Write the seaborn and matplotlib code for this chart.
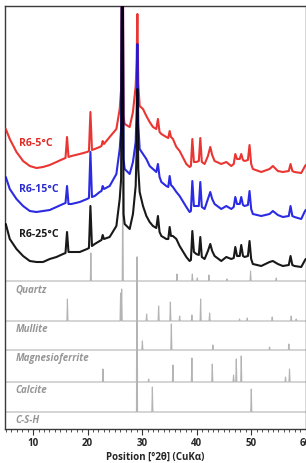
import numpy as np
import pandas as pd
import matplotlib
matplotlib.use("Agg")
import matplotlib.pyplot as plt
from matplotlib.ticker import MultipleLocator
import seaborn as sns

# ---------------- data ----------------
two_theta = [5.0, 5.73, 6.96, 8.17, 9.40, 10.62, 11.83, 13.06, 14.29, 15.50,
             15.95, 16.23, 16.5, 17.04, 18.56, 19.90, 20.25, 20.52, 20.8, 21.31,
             22.22, 22.55, 22.77, 23.0, 24.05, 25.28, 25.89, 26.15, 26.38, 26.6,
             26.80, 27.72, 28.32, 28.82, 29.0, 29.13, 29.3, 29.55, 30.16, 30.78,
             31.38, 31.99, 32.6, 32.90, 33.2, 33.53, 34.44, 34.8, 35.05, 35.3,
             35.65, 36.28, 36.88, 38.11, 38.71, 38.95, 39.21, 39.5, 39.94, 40.4,
             40.67, 40.95, 41.46, 42.07, 42.50, 42.85, 43.29, 44.52, 45.44, 46.35,
             46.8, 47.09, 47.4, 47.9, 48.18, 48.5, 48.79, 49.4, 49.70, 50.0,
             50.31, 51.85, 53.37, 53.98, 54.89, 55.81, 56.9, 57.22, 57.55, 57.95,
             59.18, 59.78, 60.0]

r6_5 = [300, 290, 277, 268, 263, 261, 262, 264, 267, 270,
        271, 292, 272, 273, 275, 277, 278, 317, 279, 280,
        282, 283, 288, 285, 292, 300, 320, 340, 580, 312,
        305, 302, 317, 343, 370, 415, 345, 323, 320, 313,
        307, 302, 300, 310, 297, 295, 292, 291, 298, 292,
        290, 282, 278, 265, 262, 263, 290, 267, 267, 268,
        291, 267, 265, 273, 282, 274, 268, 265, 267, 263,
        265, 275, 270, 270, 275, 269, 268, 269, 284, 265,
        260, 257, 260, 263, 258, 257, 258, 265, 258, 257,
        256, 262, 264]

r6_15 = [252, 240, 230, 223, 218, 217, 218, 219, 222, 225,
         226, 243, 225, 225, 227, 230, 231, 277, 232, 233,
         237, 238, 243, 240, 243, 255, 280, 300, 580, 270,
         260, 255, 267, 287, 320, 385, 305, 280, 275, 270,
         263, 260, 257, 265, 252, 247, 243, 242, 253, 244,
         242, 237, 233, 222, 217, 218, 248, 223, 223, 223,
         247, 222, 220, 230, 237, 230, 225, 220, 223, 220,
         222, 232, 225, 225, 232, 224, 223, 224, 238, 220,
         215, 213, 215, 218, 214, 212, 213, 223, 213, 212,
         210, 217, 219]

r6_25 = [205, 190, 180, 173, 168, 167, 167, 170, 172, 175,
         176, 197, 177, 177, 177, 180, 181, 223, 183, 185,
         188, 189, 194, 190, 192, 203, 230, 250, 580, 215,
         205, 200, 215, 243, 280, 340, 260, 237, 223, 213,
         207, 203, 201, 213, 197, 193, 190, 190, 202, 193,
         193, 190, 183, 172, 168, 169, 198, 177, 175, 174,
         192, 172, 170, 178, 185, 178, 173, 168, 172, 170,
         171, 182, 173, 173, 184, 173, 172, 173, 188, 170,
         165, 163, 167, 168, 165, 163, 164, 173, 164, 163,
         162, 168, 170]

sample_names = ["R6-5°C", "R6-15°C", "R6-25°C"]

quartz_pos = [20.6, 26.45, 36.39, 39.21, 40.12, 42.25, 45.55, 49.89, 54.6]
quartz_int = [28, 100, 7, 7, 3, 6, 2, 10, 3]
mullite_pos = [16.3, 26.05, 26.25, 30.83, 33.03, 35.18, 36.88, 39.13, 40.73,
               42.38, 47.87, 49.28, 53.86, 57.34, 58.26]
mullite_int = [22, 28, 32, 7, 15, 19, 5, 6, 22, 8, 2, 3, 4, 5, 2]
magnesioferrite_pos = [30.05, 35.36, 42.98, 53.37, 56.91]
magnesioferrite_int = [9, 26, 5, 3, 6]
calcite_pos = [22.83, 29.06, 31.2, 35.65, 39.13, 42.87, 46.77, 47.27, 48.18, 56.3, 57.03]
calcite_int = [13, 125, 3, 17, 24, 18, 7, 23, 26, 5, 13]
csh_pos = [29.06, 31.88, 50.02]
csh_int = [155, 25, 23]

phase_names = ["Quartz", "Mullite", "Magnesioferrite", "Calcite", "C-S-H"]

# ---------------- layout / style ----------------
phase_baselines = [148, 108, 79, 47, 17]
sample_colors = ["#e8201c", "#1414e0", "#000000"]
label_colors = ["#e02a24", "#2a2ad0", "#1a1a1a"]
label_y = [287, 240, 195]
stick_color = "#b4b4b4"
phase_label_color = "#969696"
W = 0.1

sns.set_theme(style="white")
plt.rcParams["font.family"] = ["Open Sans", "DejaVu Sans"]

fig = plt.figure(figsize=(3.06, 4.64), dpi=100)
ax = fig.add_axes([4.7 / 306, 34 / 464, (305.7 - 4.7) / 306, (430 - 7) / 464])

# phase reference patterns
phases = [(quartz_pos, quartz_int), (mullite_pos, mullite_int),
          (magnesioferrite_pos, magnesioferrite_int),
          (calcite_pos, calcite_int), (csh_pos, csh_int)]
for (pos, inten), base, name in zip(phases, phase_baselines, phase_names):
    xs = [4.8]
    ys = [base]
    for p, h in zip(pos, inten):
        xs += [p - W, p, p + W]
        ys += [base, base + h, base]
    xs.append(60)
    ys.append(base)
    sns.lineplot(x=xs, y=ys, ax=ax, color=stick_color, lw=0.8,
                 estimator=None, sort=False, zorder=1)
    ax.text(6.8, base - 8, name, color=phase_label_color, fontsize=7,
            fontstyle="italic", fontweight="bold", va="center", ha="left")

# sample patterns
df = pd.DataFrame({"two_theta": two_theta * 3,
                   "intensity": r6_5 + r6_15 + r6_25,
                   "sample": [s for s in sample_names for _ in two_theta]})
for name, col in zip(sample_names, sample_colors):
    sub = df[df["sample"] == name]
    sns.lineplot(data=sub, x="two_theta", y="intensity", ax=ax, color=col,
                 lw=1.5, estimator=None, sort=False, zorder=3, alpha=0.9)

for name, col, yy in zip(sample_names, label_colors, label_y):
    ax.text(7.4, yy, name, color=col, fontsize=7.6, fontweight="bold",
            va="center", ha="left", zorder=5)

ax.set_xlim(4.8, 60)
ax.set_ylim(0, 423)
ax.set_yticks([])
ax.set_ylabel("")
ax.xaxis.set_major_locator(MultipleLocator(10))
ax.xaxis.set_minor_locator(MultipleLocator(1))
ax.tick_params(axis="x", which="major", direction="out", length=4, width=0.8,
               color="#333333", labelsize=7, pad=2, bottom=True)
ax.tick_params(axis="x", which="minor", direction="out", length=2.5, width=0.6,
               color="#333333", bottom=True)
for lab in ax.get_xticklabels():
    lab.set_fontweight("bold")
ax.set_xlabel("Position [°2θ] (CuKα)", fontsize=7.0, fontweight="bold",
              labelpad=1.5)
for sp in ax.spines.values():
    sp.set_color("#3a3a3a")
    sp.set_linewidth(1.0)
    sp.set_visible(True)

fig.savefig("out.png", dpi=100)
